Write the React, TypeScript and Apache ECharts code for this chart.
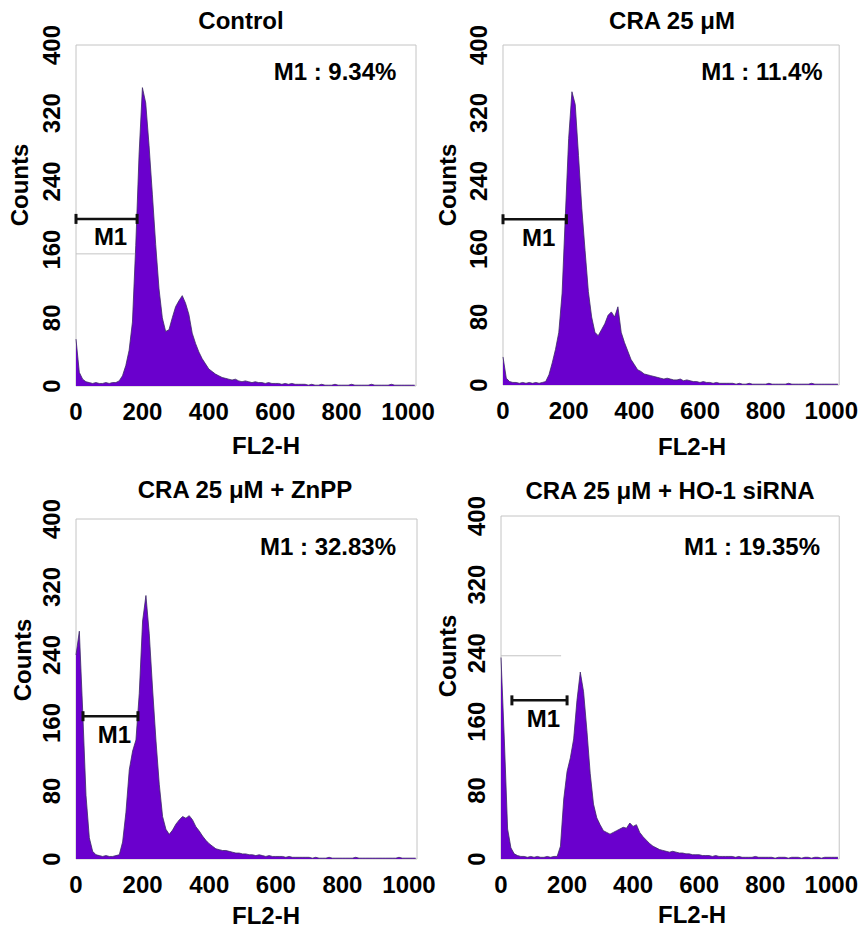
import React, { useEffect, useRef } from 'react';
import * as echarts from 'echarts';

// ---------- data ----------
const CHANNEL_STEP = 10; // FL2-H channel width of each histogram bin
const X_MAX = 1024;
const X_TICK_STEP = 200;
const Y_MAX = 400;
const Y_TICK_STEP = 80;

const PANEL_TITLES = ['Control', 'CRA 25 μM', 'CRA 25 μM + ZnPP', 'CRA 25 μM + HO-1 siRNA'];
const M1_PERCENTS = ['9.34%', '11.4%', '32.83%', '19.35%'];
const M1_START = [0, 0, 21, 33];
const M1_END = [184, 193, 186, 200];
const M1_LEVEL = [196, 195, 168, 185];
const GATE_LINE_LEVEL = [155, null, null, 237];
const GATE_LINE_END = [178, null, null, 182];

// counts per bin, channels 0,10,20,...,1020
const controlCounts = [
  55, 16, 8, 5, 4, 3, 4, 3, 3, 4,
  3, 4, 4, 6, 12, 24, 42, 75, 165, 272,
  350, 332, 282, 225, 166, 114, 80, 64, 66, 80,
  93, 100, 106, 97, 84, 62, 50, 40, 32, 26,
  20, 17, 14, 12, 10, 9, 8, 7, 8, 6,
  5, 6, 5, 4, 5, 4, 4, 3, 4, 3,
  3, 3, 2, 3, 2, 3, 2, 2, 2, 2,
  1, 2, 1, 1, 2, 1, 1, 1, 2, 1,
  1, 1, 1, 2, 1, 1, 1, 1, 1, 2,
  1, 1, 1, 1, 1, 2, 1, 1, 1, 1,
  1, 1, 1,
];
const cra25Counts = [
  33, 8, 4, 3, 3, 2, 3, 2, 3, 2,
  3, 2, 3, 4, 12, 26, 42, 62, 108, 200,
  290, 345, 330, 270, 208, 158, 110, 80, 62, 58,
  65, 72, 82, 86, 80, 92, 62, 50, 40, 30,
  24, 18, 16, 13, 12, 11, 10, 9, 8, 7,
  8, 7, 6, 6, 7, 5, 6, 5, 4, 4,
  3, 4, 3, 3, 2, 3, 2, 2, 2, 2,
  2, 1, 2, 1, 1, 2, 1, 1, 1, 1,
  1, 2, 1, 1, 1, 1, 1, 2, 1, 1,
  1, 1, 1, 1, 2, 1, 1, 1, 1, 1,
  1, 1, 1,
];
const znppCounts = [
  240, 268, 175, 75, 25, 9, 5, 4, 3, 4,
  3, 3, 4, 5, 20, 55, 105, 127, 140, 195,
  280, 310, 265, 200, 140, 88, 50, 35, 29, 34,
  41, 46, 50, 48, 51, 46, 38, 33, 27, 22,
  18, 15, 12, 11, 10, 10, 9, 8, 7, 7,
  6, 6, 5, 5, 4, 5, 4, 3, 4, 3,
  3, 3, 3, 2, 3, 2, 2, 2, 2, 2,
  2, 1, 2, 1, 1, 1, 2, 1, 1, 1,
  1, 1, 1, 1, 2, 1, 1, 1, 1, 1,
  1, 1, 1, 1, 1, 1, 1, 2, 1, 1,
  1, 1, 1,
];
const ho1SirnaCounts = [
  235, 140, 35, 13, 6, 4, 3, 3, 2, 3,
  2, 3, 2, 2, 3, 2, 3, 3, 15, 70,
  102, 118, 140, 185, 218, 195, 150, 100, 64, 48,
  40, 33, 31, 29, 31, 33, 35, 37, 36, 42,
  38, 40, 31, 26, 22, 18, 15, 13, 11, 10,
  9, 8, 9, 8, 7, 7, 6, 6, 5, 5,
  5, 4, 4, 4, 3, 4, 3, 3, 3, 3,
  3, 2, 3, 2, 2, 2, 2, 3, 2, 2,
  2, 2, 2, 1, 2, 2, 2, 1, 2, 2,
  2, 1, 2, 2, 1, 2, 2, 1, 2, 2,
  2, 2, 2,
];
const PANEL_COUNTS = [controlCounts, cra25Counts, znppCounts, ho1SirnaCounts];

// ---------- layout / style ----------
const GRIDS = [
  { left: 76, top: 45, width: 340, height: 341 },
  { left: 503, top: 45, width: 340, height: 340 },
  { left: 76, top: 519, width: 341, height: 340 },
  { left: 501, top: 516, width: 343, height: 343 },
];
const TITLE_POS = [[241, 20], [672, 20], [245, 489], [670, 490]];
const M1_TEXT_POS = [[335, 71], [762, 71], [328, 546], [752, 546]];
const YNAME_POS = [[19, 185], [447, 185], [22, 660], [447, 656]];
const XNAME_POS = [[266, 445], [692, 446], [266, 915], [692, 914]];

const FONT = '"Liberation Sans", Arial, Helvetica, sans-serif';
const FILL = '#6a00cd';
const EDGE = '#3c2a66';

export default function App() {
  const ref = useRef<HTMLDivElement>(null);

  useEffect(() => {
    if (!ref.current) return;
    const chart = echarts.init(ref.current, undefined, { renderer: 'svg' });

    const bold = { fontFamily: FONT, fontWeight: 'bold' as const, fontSize: 24, color: '#000' };

    const series: any[] = [];
    PANEL_COUNTS.forEach((counts, i) => {
      series.push({
        type: 'line',
        xAxisIndex: i,
        yAxisIndex: i,
        data: counts.map((c, k) => [k * CHANNEL_STEP, c]),
        symbol: 'none',
        lineStyle: { color: EDGE, width: 0.8 },
        areaStyle: { color: FILL, opacity: 1 },
        z: 2,
      });
      if (GATE_LINE_LEVEL[i] != null) {
        series.push({
          type: 'line',
          xAxisIndex: i,
          yAxisIndex: i,
          data: [[0, GATE_LINE_LEVEL[i]], [GATE_LINE_END[i], GATE_LINE_LEVEL[i]]],
          symbol: 'none',
          lineStyle: { color: '#c4c4c4', width: 1 },
          z: 3,
        });
      }
      series.push({
        type: 'line',
        xAxisIndex: i,
        yAxisIndex: i,
        data: [[M1_START[i], M1_LEVEL[i]], [M1_END[i], M1_LEVEL[i]]],
        symbol: 'rect',
        symbolSize: [3, 10],
        showSymbol: true,
        itemStyle: { color: '#111' },
        lineStyle: { color: '#111', width: 2.5 },
        z: 5,
      });
      series.push({
        type: 'scatter',
        xAxisIndex: i,
        yAxisIndex: i,
        data: [[(M1_START[i] + M1_END[i]) / 2, M1_LEVEL[i]]],
        symbol: 'circle',
        symbolSize: 0.1,
        itemStyle: { color: '#000', opacity: 1 },
        label: {
          show: true,
          formatter: 'M1',
          position: 'bottom',
          distance: 6,
          offset: [4, 0],
          ...bold,
          textBorderWidth: 0,
          opacity: 1,
        },
        z: 6,
      });
    });

    const graphic: any[] = [];
    M1_PERCENTS.forEach((p, i) => {
      graphic.push({
        type: 'text',
        x: M1_TEXT_POS[i][0],
        y: M1_TEXT_POS[i][1],
        style: {
          text: 'M1 : ' + p,
          align: 'center',
          verticalAlign: 'middle',
          fontFamily: FONT,
          fontWeight: 'bold',
          fontSize: 24,
          fill: '#000',
        },
      });
      graphic.push({
        type: 'text',
        x: YNAME_POS[i][0],
        y: YNAME_POS[i][1],
        rotation: Math.PI / 2,
        style: {
          text: 'Counts',
          align: 'center',
          verticalAlign: 'middle',
          fontFamily: FONT,
          fontWeight: 'bold',
          fontSize: 24,
          fill: '#000',
        },
      });
      graphic.push({
        type: 'text',
        x: XNAME_POS[i][0],
        y: XNAME_POS[i][1],
        style: {
          text: 'FL2-H',
          align: 'center',
          verticalAlign: 'middle',
          fontFamily: FONT,
          fontWeight: 'bold',
          fontSize: 24,
          fill: '#000',
        },
      });
    });

    chart.setOption({
      animation: false,
      backgroundColor: '#fff',
      title: PANEL_TITLES.map((t, i) => ({
        text: t,
        left: TITLE_POS[i][0],
        top: TITLE_POS[i][1] - 12,
        textAlign: 'center',
        padding: 0,
        textStyle: { ...bold },
      })),
      grid: GRIDS.map((g) => ({
        ...g,
        show: true,
        borderColor: '#c4c4c4',
        borderWidth: 1,
        backgroundColor: 'transparent',
      })),
      xAxis: GRIDS.map((_, i) => ({
        type: 'value',
        gridIndex: i,
        min: 0,
        max: X_MAX,
        interval: X_TICK_STEP,
        axisLine: { show: false },
        axisTick: { show: false },
        splitLine: { show: false },
        axisLabel: {
          margin: 13,
          ...bold,
          formatter: (v: number) => (v % X_TICK_STEP === 0 ? String(v) : ''),
        },
      })),
      yAxis: GRIDS.map((_, i) => ({
        type: 'value',
        gridIndex: i,
        min: 0,
        max: Y_MAX,
        interval: Y_TICK_STEP,
        axisLine: { show: false },
        axisTick: { show: false },
        splitLine: { show: false },
        axisLabel: {
          margin: 13,
          rotate: 90,
          ...bold,
        },
      })),
      graphic,
      series,
    });

    return () => chart.dispose();
  }, []);

  return (
    <div
      ref={ref}
      style={{ position: 'absolute', left: 0, top: 0, width: 861, height: 928, background: '#fff' }}
    />
  );
}
